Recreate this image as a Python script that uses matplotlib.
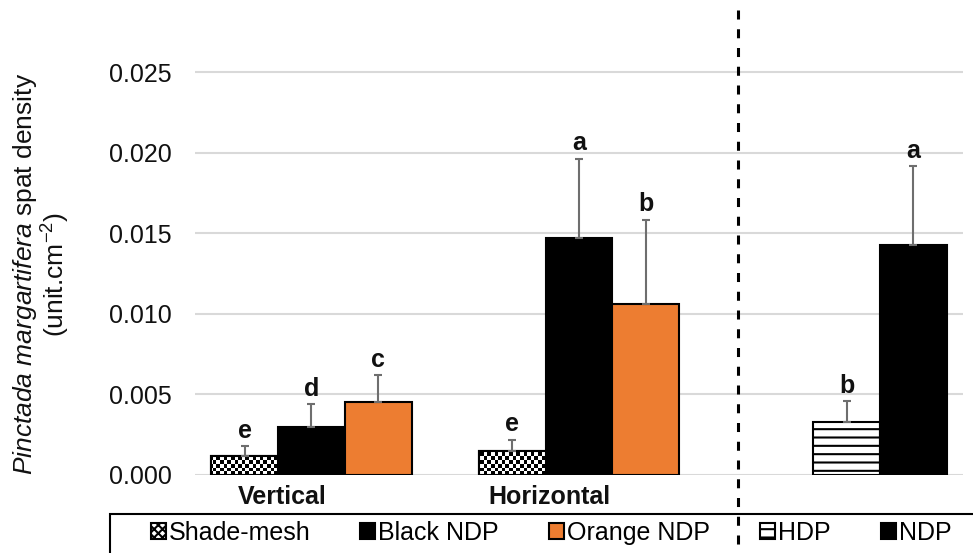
"""Pinctada margaritifera spat density by collector type and orientation."""
import numpy as np
import matplotlib
matplotlib.use("Agg")
import matplotlib.pyplot as plt
from matplotlib.patches import Rectangle
from matplotlib.ticker import FormatStrFormatter

plt.rcParams["font.family"] = ["Liberation Sans", "DejaVu Sans"]
plt.rcParams["mathtext.fontset"] = "custom"
plt.rcParams["mathtext.rm"] = "Liberation Sans"
plt.rcParams["mathtext.it"] = "Liberation Sans:italic"
plt.rcParams["hatch.linewidth"] = 1.5
plt.rcParams["lines.scale_dashes"] = False

COLORS = {
    "black": "#000000",
    "orange": "#ED7D31",
    "grid": "#D9D9D9",
    "err": "#6E6E6E",
    "text": "#111111",
}

# data
categories = ["Vertical", "Horizontal"]
shade_mesh = [0.00120, 0.00149]
shade_mesh_err = [0.0006, 0.0007]
black_ndp = [0.00300, 0.01472]
black_ndp_err = [0.0014, 0.0049]
orange_ndp = [0.00451, 0.01063]
orange_ndp_err = [0.0017, 0.0052]
hdp = [0.00329]
hdp_err = [0.0013]
ndp = [0.01425]
ndp_err = [0.0049]
letters_shade = ["e", "e"]
letters_black = ["d", "a"]
letters_orange = ["c", "b"]
letters_hdp = ["b"]
letters_ndp = ["a"]

W = 0.25
FS = 18

fig = plt.figure(figsize=(9.73, 5.53), dpi=100)
ax = fig.add_axes([195 / 973, 78 / 553, 768 / 973, 465 / 553])
ax.set_xlim(-0.4355, 2.4355)
ax.set_ylim(0, 465 / 16120)
for s in ax.spines.values():
    s.set_visible(False)
ax.set_yticks([0, 0.005, 0.010, 0.015, 0.020, 0.025])
ax.yaxis.set_major_formatter(FormatStrFormatter("%.3f"))
ax.tick_params(axis="y", length=0, pad=17, labelsize=FS, labelcolor=COLORS["text"])
ax.grid(axis="y", color=COLORS["grid"], linewidth=1.5, zorder=0)
ax.set_axisbelow(True)

grp = np.arange(len(categories))
ax.set_xticks(grp - 0.11)
ax.set_xticklabels(categories, fontsize=FS, fontweight="bold")
ax.tick_params(axis="x", length=0, pad=7, labelcolor=COLORS["text"])

edge = dict(edgecolor="black", linewidth=1.5, zorder=2)
b_shade = ax.bar(grp - W, shade_mesh, W, facecolor="white", hatch="xxxx", label="Shade-mesh", **edge)
b_black = ax.bar(grp, black_ndp, W, facecolor=COLORS["black"], label="Black NDP", **edge)
b_orange = ax.bar(grp + W, orange_ndp, W, facecolor=COLORS["orange"], label="Orange NDP", **edge)
grp2 = np.array([2.0])
b_hdp = ax.bar(grp2, hdp, W, facecolor="white", hatch="--", label="HDP", **edge)
b_ndp = ax.bar(grp2 + W, ndp, W, facecolor=COLORS["black"], label="NDP", **edge)

# checkerboard texture for the shade-mesh bars
cell = 3.6
nx, ny = int(768 / cell), int(465 / cell)
checker = (np.add.outer(np.arange(ny), np.arange(nx)) % 2).astype(float)
x0, x1 = ax.get_xlim()
y0, y1 = ax.get_ylim()
for bar in b_shade:
    im = ax.imshow(checker, cmap="gray", extent=(x0, x1, y0, y1), aspect="auto",
                   interpolation="nearest", zorder=2.1, origin="lower")
    im.set_clip_path(bar)
    ax.add_patch(Rectangle(bar.get_xy(), bar.get_width(), bar.get_height(),
                           fill=False, edgecolor="black", linewidth=1.5, zorder=2.2))
ax.set_xlim(x0, x1)
ax.set_ylim(y0, y1)

series = [
    (grp - W, shade_mesh, shade_mesh_err, letters_shade),
    (grp, black_ndp, black_ndp_err, letters_black),
    (grp + W, orange_ndp, orange_ndp_err, letters_orange),
    (grp2, hdp, hdp_err, letters_hdp),
    (grp2 + W, ndp, ndp_err, letters_ndp),
]
for xs, vals, errs, labs in series:
    ax.errorbar(xs, vals, yerr=[np.zeros(len(vals)), errs], fmt="none",
                ecolor=COLORS["err"], elinewidth=1.5, capsize=2.9, capthick=1.5, zorder=3)
    for x, v, e, lab in zip(xs, vals, errs, labs):
        ax.annotate(lab, (x, v + e), xytext=(0, 6), textcoords="offset points",
                    ha="center", va="baseline", fontsize=FS, fontweight="bold",
                    color=COLORS["text"])

# dashed separator
ax.plot([1.594, 1.594], [1.0, -0.2], transform=ax.get_xaxis_transform(), clip_on=False,
        color="black", linewidth=2.2, dashes=(6.5, 7), zorder=4)

ax.set_ylabel("$\\mathit{Pinctada\\ margartifera}$ spat density\n(unit.cm$^{\\mathregular{-2}}$)",
              fontsize=19, color=COLORS["text"], linespacing=1.05)
ax.yaxis.set_label_coords(-(195 - 72) / 768, (475 - 274) / 465)

# legend box
fig.add_artist(Rectangle((110 / 973, -0.05), 1.0, 0.05 + (553 - 514) / 553,
                         transform=fig.transFigure, fill=False, edgecolor="black",
                         linewidth=1.5, clip_on=False))
fig.legend(handles=[b_shade, b_black, b_orange, b_hdp, b_ndp], loc="center",
           bbox_to_anchor=(551 / 973, 1 - 533 / 553), ncol=5, frameon=False,
           fontsize=FS, handlelength=0.6, handleheight=0.6, handletextpad=0.12,
           columnspacing=2.0, borderpad=0, borderaxespad=0)

fig.savefig("out.png", dpi=100)
